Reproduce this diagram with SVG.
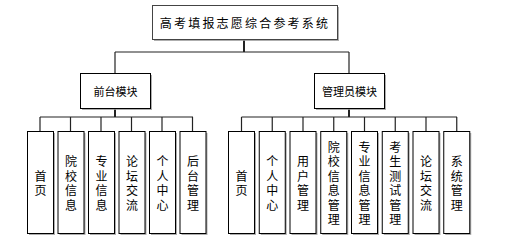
<svg xmlns="http://www.w3.org/2000/svg" width="522" height="249" viewBox="0 0 522 249">
<style>
.box{fill:#fff;stroke:#000;stroke-width:1}
.sh{fill:#9a9a9a;opacity:0.8}
.t{font-family:"Noto Sans CJK SC","Liberation Sans",sans-serif;font-size:12px;fill:#000;text-anchor:middle;dominant-baseline:central}
.c line{stroke:#222;stroke-width:1.2}
</style>
<g class="c" id="connectors">
<line x1="244" y1="39" x2="244" y2="52" style="stroke-width:2"/>
<line x1="115" y1="52" x2="349" y2="52"/>
<line x1="115" y1="52" x2="115" y2="73"/>
<line x1="349" y1="52" x2="349" y2="73"/>
<line x1="115" y1="108" x2="115" y2="117" style="stroke-width:2"/>
<line x1="349" y1="108" x2="349" y2="117" style="stroke-width:2"/>
<line x1="40" y1="117" x2="193" y2="117"/>
<line x1="40" y1="117" x2="40" y2="131"/>
<line x1="70.5" y1="117" x2="70.5" y2="131"/>
<line x1="101" y1="117" x2="101" y2="131"/>
<line x1="131.5" y1="117" x2="131.5" y2="131"/>
<line x1="162" y1="117" x2="162" y2="131"/>
<line x1="192.5" y1="117" x2="192.5" y2="131"/>
<line x1="241.5" y1="117" x2="457" y2="117"/>
<line x1="241.5" y1="117" x2="241.5" y2="131"/>
<line x1="272.25" y1="117" x2="272.25" y2="131"/>
<line x1="303" y1="117" x2="303" y2="131"/>
<line x1="333.75" y1="117" x2="333.75" y2="131"/>
<line x1="364.5" y1="117" x2="364.5" y2="131"/>
<line x1="395.25" y1="117" x2="395.25" y2="131"/>
<line x1="426" y1="117" x2="426" y2="131"/>
<line x1="456.75" y1="117" x2="456.75" y2="131"/>
</g>
<g id="root">
<rect class="sh" x="154" y="7" width="185" height="34"/>
<rect class="box" x="152.5" y="5.5" width="185" height="34" style="stroke:#444"/>
<text class="t" x="245" y="22.5" style="letter-spacing:2.2px">高考填报志愿综合参考系统</text>
</g>
<g id="front">
<rect class="sh" x="82" y="75" width="70" height="35"/>
<rect class="box" x="80.5" y="73.5" width="70" height="35"/>
<text class="t" x="115.5" y="91" style="font-size:11px">前台模块</text>
</g>
<g id="admin">
<rect class="sh" x="316" y="75" width="70" height="35"/>
<rect class="box" x="314.5" y="73.5" width="70" height="35"/>
<text class="t" x="349.5" y="91" style="font-size:11px">管理员模块</text>
</g>
<g id="f1"><rect class="sh" x="29" y="133" width="26" height="102"/><rect class="box" x="27.5" y="131.5" width="26" height="102"/>
<text class="t"><tspan x="40.5" y="174.75">首</tspan><tspan x="40.5" dy="14.5">页</tspan></text></g>
<g id="f2"><rect class="sh" x="59.5" y="133" width="26" height="102"/><rect class="box" x="58" y="131.5" width="26" height="102"/>
<text class="t"><tspan x="71" y="160.25">院</tspan><tspan x="71" dy="14.5">校</tspan><tspan x="71" dy="14.5">信</tspan><tspan x="71" dy="14.5">息</tspan></text></g>
<g id="f3"><rect class="sh" x="90" y="133" width="26" height="102"/><rect class="box" x="88.5" y="131.5" width="26" height="102"/>
<text class="t"><tspan x="101.5" y="160.25">专</tspan><tspan x="101.5" dy="14.5">业</tspan><tspan x="101.5" dy="14.5">信</tspan><tspan x="101.5" dy="14.5">息</tspan></text></g>
<g id="f4"><rect class="sh" x="120.5" y="133" width="26" height="102"/><rect class="box" x="119" y="131.5" width="26" height="102"/>
<text class="t"><tspan x="132" y="160.25">论</tspan><tspan x="132" dy="14.5">坛</tspan><tspan x="132" dy="14.5">交</tspan><tspan x="132" dy="14.5">流</tspan></text></g>
<g id="f5"><rect class="sh" x="151" y="133" width="26" height="102"/><rect class="box" x="149.5" y="131.5" width="26" height="102"/>
<text class="t"><tspan x="162.5" y="160.25">个</tspan><tspan x="162.5" dy="14.5">人</tspan><tspan x="162.5" dy="14.5">中</tspan><tspan x="162.5" dy="14.5">心</tspan></text></g>
<g id="f6"><rect class="sh" x="181.5" y="133" width="26" height="102"/><rect class="box" x="180" y="131.5" width="26" height="102"/>
<text class="t"><tspan x="193" y="160.25">后</tspan><tspan x="193" dy="14.5">台</tspan><tspan x="193" dy="14.5">管</tspan><tspan x="193" dy="14.5">理</tspan></text></g>
<g id="a1"><rect class="sh" x="230" y="133" width="26" height="102"/><rect class="box" x="228.5" y="131.5" width="26" height="102"/>
<text class="t"><tspan x="241.5" y="174.75">首</tspan><tspan x="241.5" dy="14.5">页</tspan></text></g>
<g id="a2"><rect class="sh" x="260.75" y="133" width="26" height="102"/><rect class="box" x="259.25" y="131.5" width="26" height="102"/>
<text class="t"><tspan x="272.25" y="160.25">个</tspan><tspan x="272.25" dy="14.5">人</tspan><tspan x="272.25" dy="14.5">中</tspan><tspan x="272.25" dy="14.5">心</tspan></text></g>
<g id="a3"><rect class="sh" x="291.5" y="133" width="26" height="102"/><rect class="box" x="290" y="131.5" width="26" height="102"/>
<text class="t"><tspan x="303" y="160.25">用</tspan><tspan x="303" dy="14.5">户</tspan><tspan x="303" dy="14.5">管</tspan><tspan x="303" dy="14.5">理</tspan></text></g>
<g id="a4"><rect class="sh" x="322.25" y="133" width="26" height="102"/><rect class="box" x="320.75" y="131.5" width="26" height="102"/>
<text class="t"><tspan x="333.75" y="145.75">院</tspan><tspan x="333.75" dy="14.5">校</tspan><tspan x="333.75" dy="14.5">信</tspan><tspan x="333.75" dy="14.5">息</tspan><tspan x="333.75" dy="14.5">管</tspan><tspan x="333.75" dy="14.5">理</tspan></text></g>
<g id="a5"><rect class="sh" x="353" y="133" width="26" height="102"/><rect class="box" x="351.5" y="131.5" width="26" height="102"/>
<text class="t"><tspan x="364.5" y="145.75">专</tspan><tspan x="364.5" dy="14.5">业</tspan><tspan x="364.5" dy="14.5">信</tspan><tspan x="364.5" dy="14.5">息</tspan><tspan x="364.5" dy="14.5">管</tspan><tspan x="364.5" dy="14.5">理</tspan></text></g>
<g id="a6"><rect class="sh" x="383.75" y="133" width="26" height="102"/><rect class="box" x="382.25" y="131.5" width="26" height="102"/>
<text class="t"><tspan x="395.25" y="145.75">考</tspan><tspan x="395.25" dy="14.5">生</tspan><tspan x="395.25" dy="14.5">测</tspan><tspan x="395.25" dy="14.5">试</tspan><tspan x="395.25" dy="14.5">管</tspan><tspan x="395.25" dy="14.5">理</tspan></text></g>
<g id="a7"><rect class="sh" x="414.5" y="133" width="26" height="102"/><rect class="box" x="413" y="131.5" width="26" height="102"/>
<text class="t"><tspan x="426" y="160.25">论</tspan><tspan x="426" dy="14.5">坛</tspan><tspan x="426" dy="14.5">交</tspan><tspan x="426" dy="14.5">流</tspan></text></g>
<g id="a8"><rect class="sh" x="445.25" y="133" width="26" height="102"/><rect class="box" x="443.75" y="131.5" width="26" height="102"/>
<text class="t"><tspan x="456.75" y="160.25">系</tspan><tspan x="456.75" dy="14.5">统</tspan><tspan x="456.75" dy="14.5">管</tspan><tspan x="456.75" dy="14.5">理</tspan></text></g>
</svg>
